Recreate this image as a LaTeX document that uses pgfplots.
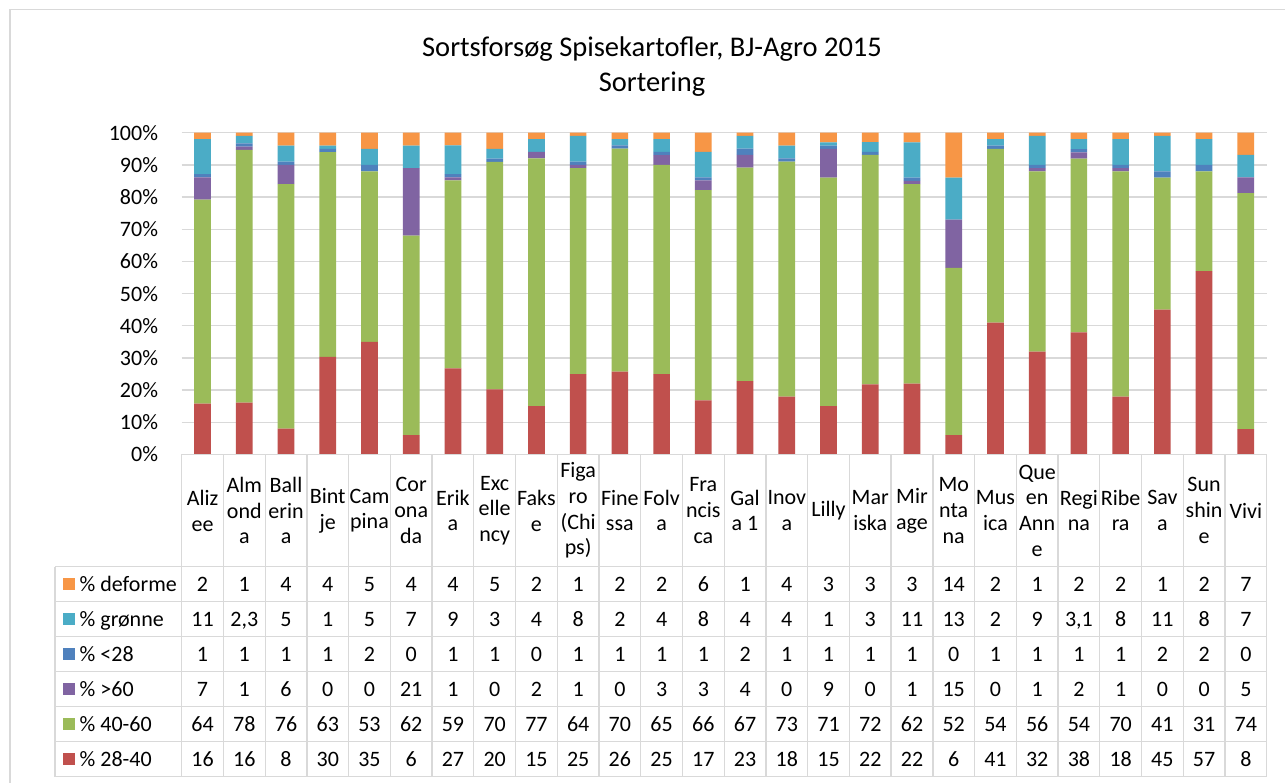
\documentclass[border=0pt]{standalone}
\usepackage{fontspec}
\setmainfont{Carlito}
\usepackage{pgfplots}
\usepackage{pgfplotstable}
\pgfplotsset{compat=1.18}
\pgfkeys{/pgf/number format/assume math mode=true}
\definecolor{cR}{HTML}{C0504D}
\definecolor{cG}{HTML}{9BBB59}
\definecolor{cP}{HTML}{8064A2}
\definecolor{cB}{HTML}{4F81BD}
\definecolor{cC}{HTML}{4BACC6}
\definecolor{cO}{HTML}{F79646}
\definecolor{lineC}{HTML}{D9D9D9}
\pgfplotstableread{
r g p b c o
16 64 7 1 11 2
16 78 1 1 2.3 1
8 76 6 1 5 4
30 63 0 1 1 4
35 53 0 2 5 5
6 62 21 0 7 4
27 59 1 1 9 4
20 70 0 1 3 5
15 77 2 0 4 2
25 64 1 1 8 1
26 70 0 1 2 2
25 65 3 1 4 2
17 66 3 1 8 6
23 67 4 2 4 1
18 73 0 1 4 4
15 71 9 1 1 3
22 72 0 1 3 3
22 62 1 1 11 3
6 52 15 0 13 14
41 54 0 1 2 2
32 56 1 1 9 1
38 54 2 1 3.1 2
18 70 1 1 8 2
45 41 0 2 11 1
57 31 0 2 8 2
8 74 5 0 7 7
}\data
\newcommand\tot{(\thisrow{r}+\thisrow{g}+\thisrow{p}+\thisrow{b}+\thisrow{c}+\thisrow{o})}
\newcommand\cw{41.731}
\begin{document}
\begin{tikzpicture}[x=1pt,y=1pt]
\useasboundingbox (0,0) rectangle (1285,783);
\fill[white] (0,0) rectangle (1285,783);
\draw[lineC, line width=1.3pt] (10,0) -- (10,773.7) -- (1285,773.7);
\node[font=\fontsize{28.5}{34}\selectfont, anchor=base, inner sep=0pt] at (652,726) {Sortsforsøg Spisekartofler, BJ-Agro 2015};
\node[font=\fontsize{28.5}{34}\selectfont, anchor=base, inner sep=0pt] at (652,691) {Sortering};
\begin{axis}[
  at={(181.7pt,328.5pt)}, anchor=south west,
  scale only axis, width=1085pt, height=321.8pt,
  xmin=-0.5, xmax=25.5, ymin=0, ymax=100,
  ybar stacked, bar width=0.4,
  ytick={0,10,...,100},
  yticklabel={\pgfmathprintnumber{\tick}\%},
  y tick label style={anchor=east, inner sep=0pt, xshift=-23.5pt},
  xtick={0,...,25},
  xticklabels={{Aliz\\ee},{Alm\\ond\\a},{Ball\\erin\\a},{Bint\\je},{Cam\\pina},{Cor\\ona\\da},{Erik\\a},{Exc\\elle\\ncy},{Faks\\e},{Figa\\ro\\(Chi\\ps)},{Fine\\ssa},{Folv\\a},{Fra\\ncis\\ca},{Gal\\a 1},{Inov\\a},{Lilly},{Mar\\iska},{Mir\\age},{Mo\\nta\\na},{Mus\\ica},{Que\\en\\Ann\\e},{Regi\\na},{Ribe\\ra},{Sav\\a},{Sun\\shin\\e},{Vivi}},
  x tick label style={align=center, anchor=center, inner sep=0pt, yshift=-56.1pt},
  tick label style={font=\fontsize{22}{25.7}\selectfont},
  major tick length=0pt,
  axis line style={draw=none},
  ymajorgrids, grid style={draw=lineC, line width=1.3pt},
]
\addplot[fill=cR, draw=none] table[x expr=\coordindex, y expr={100*\thisrow{r}/\tot}] {\data};
\addplot[fill=cG, draw=none] table[x expr=\coordindex, y expr={100*\thisrow{g}/\tot}] {\data};
\addplot[fill=cP, draw=none] table[x expr=\coordindex, y expr={100*\thisrow{p}/\tot}] {\data};
\addplot[fill=cB, draw=none] table[x expr=\coordindex, y expr={100*\thisrow{b}/\tot}] {\data};
\addplot[fill=cC, draw=none] table[x expr=\coordindex, y expr={100*\thisrow{c}/\tot}] {\data};
\addplot[fill=cO, draw=none] table[x expr=\coordindex, y expr={100*\thisrow{o}/\tot}] {\data};
\end{axis}
% table grid
\foreach \k in {0,...,26} \draw[lineC, line width=1.3pt] ({181.7+\cw*\k},328.5) -- ({181.7+\cw*\k},6.3);
\foreach \yy in {216.3,181.3,146.3,111.3,76.3,41.3,6.3} \draw[lineC, line width=1.3pt] (55,\yy) -- (1266.7,\yy);
\draw[lineC, line width=1.3pt] (55,216.3) -- (55,6.3);
\draw[lineC, line width=1.3pt] (181.7,328.5) -- (1266.7,328.5);
% legend column
\foreach \cl/\nm/\yy in {cO/deforme/198.8, cC/grønne/163.8, cB/<28/128.8, cP/>60/93.8, cG/40-60/58.8, cR/28-40/23.8} {
  \fill[\cl] (63,\yy-6) rectangle (75,\yy+6);
  \node[anchor=west, inner sep=0pt, text height=14pt, text depth=0pt, font=\fontsize{22}{25.7}\selectfont] at (79.5,\yy) {\% \nm};
}
% values
\foreach \col/\yy in {o/198.8, c/163.8, b/128.8, p/93.8, g/58.8, r/23.8} {
  \foreach \i in {0,...,25} {
    \pgfplotstablegetelem{\i}{\col}\of\data
    \node[inner sep=0pt, text height=14pt, text depth=0pt, font=\fontsize{22}{25.7}\selectfont] at ({181.7+\cw*(\i+0.5)},\yy) {\pgfmathprintnumber[use comma]{\pgfplotsretval}};
  }
}
\end{tikzpicture}
\end{document}
